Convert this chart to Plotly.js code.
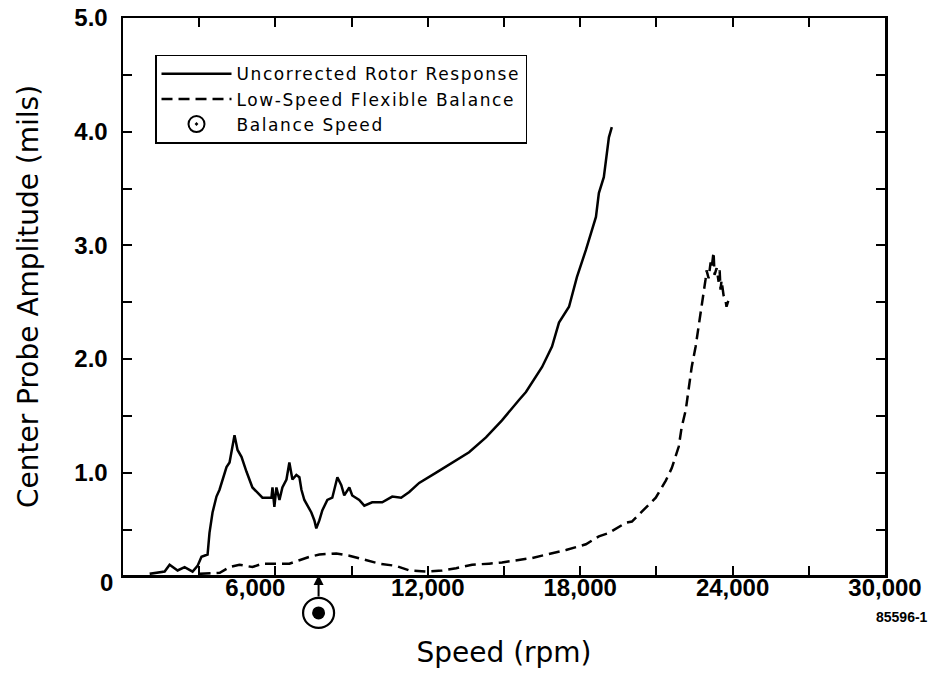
<!DOCTYPE html>
<html>
<head>
<meta charset="utf-8">
<script src="https://cdn.plot.ly/plotly-3.0.1.min.js"></script>
<style>
html,body{margin:0;padding:0;background:#fff;}
#chart{width:940px;height:685px;}
.legendtext{letter-spacing:1.6px;}
</style>
</head>
<body>
<div id="chart"></div>
<script>
// Uncorrected rotor response (solid)
const speedSolid = [1050,1640,1835,2150,2425,2740,2935,3090,3330,3405,3525,3680,3800,4075,4195,4390,4510,4665,4860,5095,5490,5845,5885,5960,6040,6160,6275,6435,6550,6670,6825,6945,7025,7140,7415,7535,7610,7730,7850,8045,8240,8440,8595,8710,8910,9025,9300,9500,9810,10205,10600,10950,11270,11660,12330,12960,13625,14290,14920,15590,15865,16500,16890,17165,17560,17870,18225,18620,18735,18930,19010,19130,19245];
const ampSolid   = [0.11,0.13,0.19,0.14,0.17,0.13,0.18,0.26,0.28,0.47,0.65,0.79,0.85,1.05,1.09,1.33,1.20,1.14,1.01,0.87,0.78,0.78,0.87,0.70,0.87,0.76,0.87,0.94,1.09,0.94,0.98,0.96,0.85,0.76,0.65,0.58,0.51,0.58,0.67,0.76,0.78,0.96,0.89,0.80,0.87,0.80,0.76,0.71,0.74,0.74,0.79,0.78,0.83,0.91,1.00,1.09,1.18,1.31,1.46,1.64,1.71,1.93,2.11,2.32,2.46,2.72,2.96,3.25,3.46,3.60,3.75,3.95,4.04];

// Low-speed flexible balance (dashed)
const speedDashed = [3015,3810,4195,4585,5095,5490,6040,6550,6945,7340,7730,8400,8910,9420,10090,10755,11270,11935,12565,13115,13745,14415,14920,16115,17440,18225,18735,19130,19800,20035,20580,20975,21370,21605,21880,21995,22155,22270,22390,22545,22665,22740,22780,22860,22935,22975,23055,23135,23175,23250,23290,23370,23450,23490,23525,23565,23645,23720,23760,23840];
const ampDashed   = [0.11,0.12,0.17,0.19,0.17,0.20,0.20,0.20,0.23,0.26,0.28,0.29,0.27,0.24,0.20,0.18,0.14,0.13,0.14,0.16,0.19,0.20,0.21,0.25,0.32,0.37,0.44,0.47,0.56,0.57,0.69,0.78,0.93,1.04,1.23,1.40,1.55,1.73,1.93,2.11,2.28,2.41,2.46,2.58,2.70,2.78,2.71,2.85,2.80,2.94,2.74,2.80,2.68,2.78,2.61,2.69,2.56,2.52,2.46,2.52];

// Balance speed (rpm)
const balanceSpeed = [7700];

// Axis ticks
const xTickVals = [0,3000,6000,9000,12000,15000,18000,21000,24000,27000,30000];
const xTickText = ["","","6,000","","12,000","","18,000","","24,000","","30,000"];
const yTickVals = [0.5,1.0,1.5,2.0,2.5,3.0,3.5,4.0,4.5,5.0];
const yTickText = ["","1.0","","2.0","","3.0","","4.0","","5.0"];
const yZeroLabel = "0";
const figureId = "85596-1";

const Y_MIN = 0.1, Y_MAX = 5.0;
const MARKER_Y_PAPER = -0.068;
const ZERO_Y_PAPER = -0.0204;
const NBSP = "\u00a0";

const tickFont = {family: "Liberation Sans, Arial, sans-serif", size: 24, color: "#000", weight: "bold"};
const titleFont = {family: "DejaVu Sans, sans-serif", size: 28, color: "#000"};

// the original prints the 6,000 label nudged left of its tick, clear of the balance-speed mark
const xTickTextShown = xTickText.map(t => t === "6,000" ? t + NBSP.repeat(6) : t);

const traces = [
  {
    x: speedSolid, y: ampSolid, mode: "lines", name: "Uncorrected Rotor Response",
    line: {color: "#000", width: 2.5}
  },
  {
    x: speedDashed, y: ampDashed, mode: "lines", name: "Low-Speed Flexible Balance",
    line: {color: "#000", width: 2.5, dash: "11px,6px"}
  },
  {
    // legend entry; the mark itself is drawn below the axis with shapes at balanceSpeed
    x: balanceSpeed, y: [-1], mode: "markers", name: "Balance Speed",
    marker: {symbol: "circle-open-dot", size: 16, color: "#000", line: {width: 2, color: "#000"}}
  }
];

const layout = {
  width: 940, height: 685,
  margin: {l: 123, r: 55, t: 18, b: 110},
  paper_bgcolor: "#fff", plot_bgcolor: "#fff",
  showlegend: true,
  legend: {
    x: 0.042, y: 0.934, xanchor: "left", yanchor: "top",
    bgcolor: "#fff", bordercolor: "#000", borderwidth: 1.5,
    font: {family: "DejaVu Sans, sans-serif", size: 17, color: "#000"},
    itemwidth: 70
  },
  xaxis: {
    range: [0, 30000], showgrid: false, zeroline: false,
    showline: true, linecolor: "#000", linewidth: 2.5, mirror: "ticks",
    ticks: "inside", ticklen: 9, tickwidth: 2, tickcolor: "#000",
    tickvals: xTickVals, ticktext: xTickTextShown, tickfont: tickFont,
    ticklabelstandoff: -10,
    title: {text: "Speed (rpm)", font: titleFont, standoff: 42}
  },
  yaxis: {
    range: [Y_MIN, Y_MAX], showgrid: false, zeroline: false,
    showline: true, linecolor: "#000", linewidth: 2.5, mirror: "ticks",
    ticks: "inside", ticklen: 9, tickwidth: 2, tickcolor: "#000",
    tickvals: yTickVals, ticktext: yTickText, tickfont: tickFont,
    ticklabelstandoff: 8,
    title: {text: "Center Probe Amplitude (mils)", font: titleFont, standoff: 28}
  },
  shapes: [
    {
      type: "circle", xref: "x", xsizemode: "pixel", xanchor: balanceSpeed[0], x0: -15.5, x1: 15.5,
      yref: "paper", ysizemode: "pixel", yanchor: MARKER_Y_PAPER, y0: -15, y1: 15,
      line: {color: "#000", width: 2.2}, fillcolor: "#fff"
    },
    {
      type: "circle", xref: "x", xsizemode: "pixel", xanchor: balanceSpeed[0], x0: -6.5, x1: 6.5,
      yref: "paper", ysizemode: "pixel", yanchor: MARKER_Y_PAPER, y0: -6.5, y1: 6.5,
      line: {color: "#000", width: 0}, fillcolor: "#000"
    }
  ],
  annotations: [
    {
      xref: "paper", yref: "paper", x: 0, y: ZERO_Y_PAPER, xanchor: "right", yanchor: "middle",
      xshift: -8, yshift: 4, text: yZeroLabel, showarrow: false, font: tickFont
    },
    {
      xref: "x", yref: "paper", x: balanceSpeed[0], y: 0, text: "",
      showarrow: true, ax: 0, ay: 23, arrowhead: 2, arrowsize: 1, arrowwidth: 2, arrowcolor: "#000"
    },
    {
      xref: "paper", yref: "paper", x: 1.0587, y: -0.0754, xanchor: "right", yanchor: "middle",
      text: figureId, showarrow: false,
      font: {family: "Liberation Sans, Arial, sans-serif", size: 14, color: "#000", weight: "bold"}
    }
  ]
};

Plotly.newPlot("chart", traces, layout, {staticPlot: true, displayModeBar: false});
</script>
</body>
</html>
